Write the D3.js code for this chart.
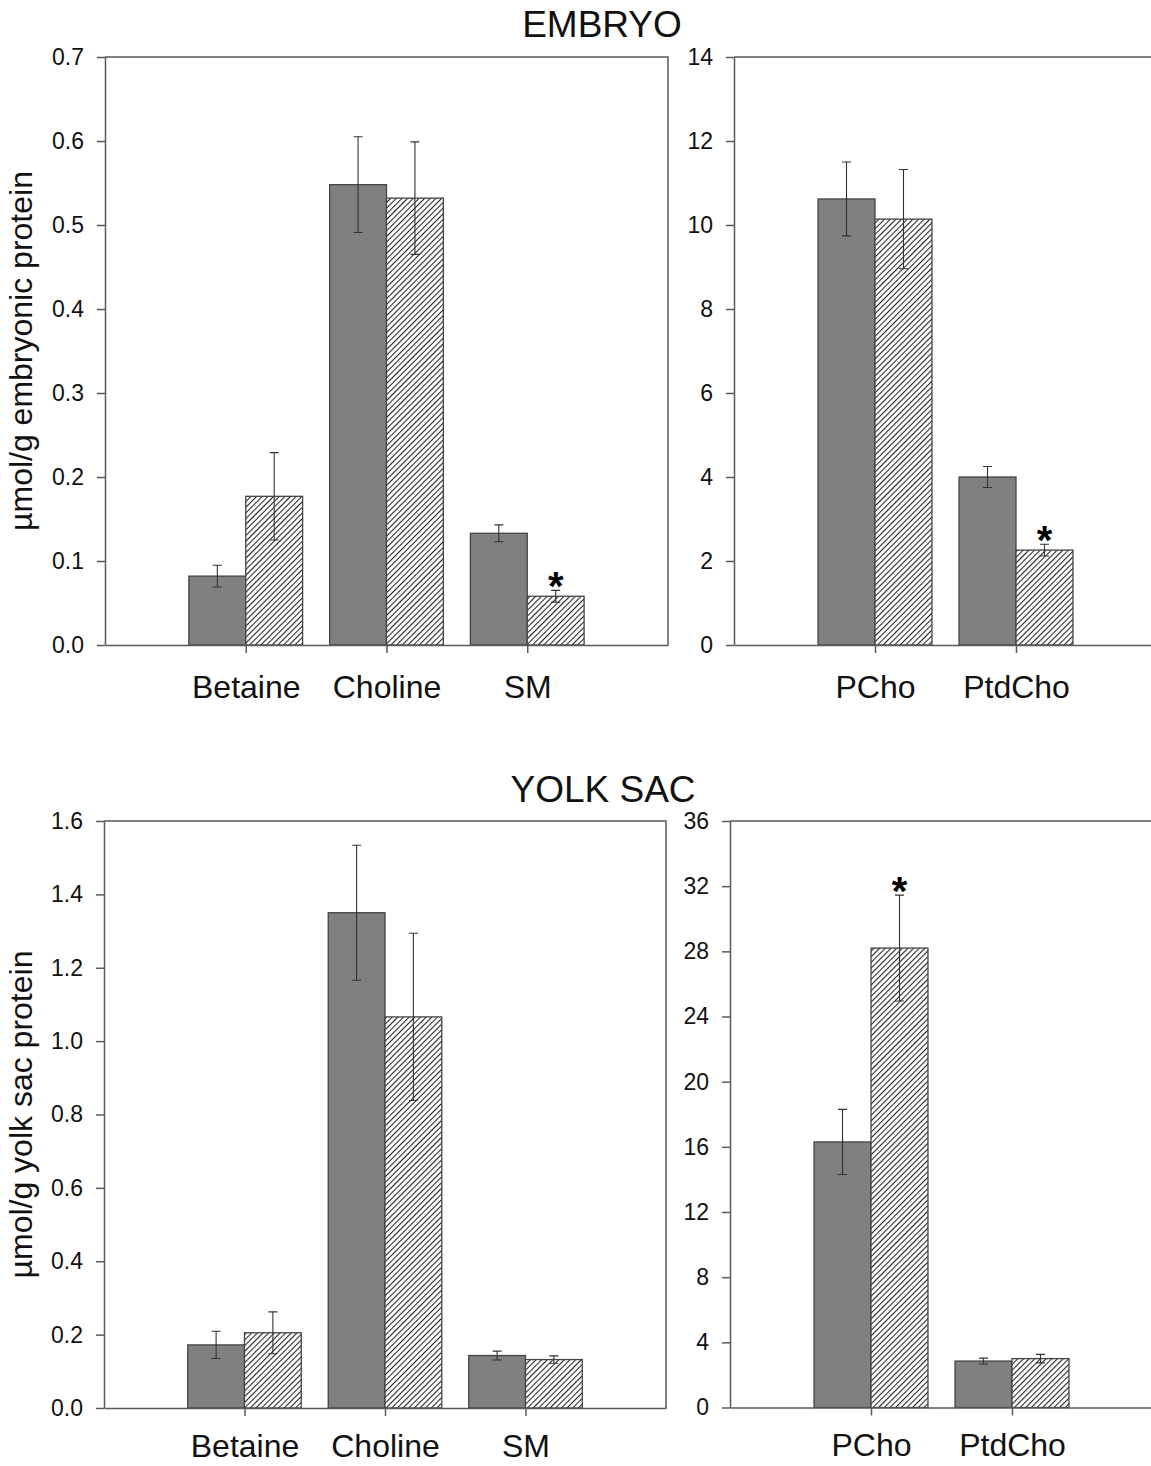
<!DOCTYPE html>
<html>
<head>
<meta charset="utf-8">
<script src="https://cdn.jsdelivr.net/npm/d3@7"></script>
<style>
  body { margin: 0; background: #fff; }
  svg text { font-family: "Liberation Sans", Arial, sans-serif; }
</style>
</head>
<body>
<div id="chart"></div>
<script>
const leftCats = ["Betaine", "Choline", "SM"];
const rightCats = ["PCho", "PtdCho"];

// embryo
const embryoLeftSolid = [0.082, 0.548, 0.133];
const embryoLeftSolidErr = [0.013, 0.057, 0.010];
const embryoLeftHatch = [0.177, 0.532, 0.058];
const embryoLeftHatchErr = [0.052, 0.067, 0.007];
const embryoLeftStars = ["SM"];
const embryoLeftTicks = [0, 0.1, 0.2, 0.3, 0.4, 0.5, 0.6, 0.7];

const embryoRightSolid = [10.62, 4.0];
const embryoRightSolidErr = [0.88, 0.25];
const embryoRightHatch = [10.14, 2.26];
const embryoRightHatchErr = [1.18, 0.14];
const embryoRightStars = ["PtdCho"];
const embryoRightTicks = [0, 2, 4, 6, 8, 10, 12, 14];

// yolk sac
const yolkLeftSolid = [0.172, 1.35, 0.143];
const yolkLeftSolidErr = [0.037, 0.184, 0.012];
const yolkLeftHatch = [0.205, 1.066, 0.132];
const yolkLeftHatchErr = [0.057, 0.228, 0.010];
const yolkLeftStars = [];
const yolkLeftTicks = [0, 0.2, 0.4, 0.6, 0.8, 1.0, 1.2, 1.4, 1.6];

const yolkRightSolid = [16.3, 2.85];
const yolkRightSolidErr = [2.0, 0.18];
const yolkRightHatch = [28.2, 3.0];
const yolkRightHatchErr = [3.25, 0.26];
const yolkRightStars = ["PCho"];
const yolkRightTicks = [0, 4, 8, 12, 16, 20, 24, 28, 32, 36];

const width = 1151;
const height = 1466;

const svg = d3.select("#chart")
  .append("svg")
  .attr("width", width)
  .attr("height", height);

// diagonal hatch
svg.append("defs")
  .append("pattern")
  .attr("id", "hatch")
  .attr("patternUnits", "userSpaceOnUse")
  .attr("width", 4)
  .attr("height", 4)
  .attr("patternTransform", "rotate(45)")
  .call(p => p.append("rect").attr("width", 4).attr("height", 4).attr("fill", "#fff"))
  .append("line")
  .attr("x1", 0.5).attr("y1", 0)
  .attr("x2", 0.5).attr("y2", 4)
  .attr("stroke", "#222")
  .attr("stroke-width", 1.1);

function drawPanel(opt) {
  const { cats, solid, solidErr, hatch, hatchErr, stars, ticks, fmt } = opt;
  const g = svg.append("g");

  const x = d3.scaleLinear().domain([0, opt.xMax]).range([opt.left, opt.right]);
  const y = d3.scaleLinear().domain([0, ticks[ticks.length - 1]]).range([opt.bottom, opt.top]);
  const step = x(1) - x(0);
  const bw = step * 0.404;

  // frame (top and right sides)
  g.append("path")
    .attr("d", `M${opt.left},${opt.top}H${opt.right}V${opt.bottom}`)
    .attr("fill", "none")
    .attr("stroke", "#5a5a5a")
    .attr("stroke-width", 1.5);

  const rows = cats.map((c, i) => ({
    cat: c, pos: i + 1,
    solid: solid[i], solidErr: solidErr[i],
    hatch: hatch[i], hatchErr: hatchErr[i],
    star: stars.includes(c)
  }));

  g.selectAll("rect.solid")
    .data(rows)
    .join("rect")
    .attr("class", "solid")
    .attr("x", d => x(d.pos) - bw)
    .attr("y", d => y(d.solid))
    .attr("width", bw)
    .attr("height", d => y(0) - y(d.solid))
    .style("fill", "#808080")
    .style("stroke", "#444")
    .style("stroke-width", 1.3);

  g.selectAll("rect.hatch")
    .data(rows)
    .join("rect")
    .attr("class", "hatch")
    .attr("x", d => x(d.pos))
    .attr("y", d => y(d.hatch))
    .attr("width", bw)
    .attr("height", d => y(0) - y(d.hatch))
    .style("fill", "url(#hatch)")
    .style("stroke", "#444")
    .style("stroke-width", 1.3);

  // error bars
  const errs = [];
  rows.forEach(d => {
    errs.push({ cx: x(d.pos) - bw / 2, v: d.solid, e: d.solidErr });
    errs.push({ cx: x(d.pos) + bw / 2, v: d.hatch, e: d.hatchErr });
  });
  const cap = 4.5;
  g.selectAll("path.err")
    .data(errs)
    .join("path")
    .attr("class", "err")
    .attr("d", d => {
      const y1 = y(d.v + d.e), y2 = y(d.v - d.e);
      return `M${d.cx},${y1}V${y2}M${d.cx - cap},${y1}H${d.cx + cap}M${d.cx - cap},${y2}H${d.cx + cap}`;
    })
    .style("fill", "none")
    .style("stroke", "#333")
    .style("stroke-width", 1.1);

  // significance stars
  g.selectAll("text.star")
    .data(rows.filter(d => d.star))
    .join("text")
    .attr("class", "star")
    .attr("x", d => x(d.pos) + bw / 2)
    .attr("y", d => y(d.hatch + d.hatchErr) + 10)
    .attr("text-anchor", "middle")
    .style("font-size", "40px")
    .style("font-weight", "bold")
    .style("fill", "#000")
    .text("*");

  // y axis
  g.append("g")
    .attr("transform", `translate(${opt.left},0)`)
    .call(d3.axisLeft(y).tickValues(ticks).tickFormat(fmt).tickSize(8).tickSizeOuter(0).tickPadding(13))
    .call(a => a.select(".domain").attr("stroke", "#5a5a5a").attr("stroke-width", 1.5))
    .call(a => a.selectAll(".tick line").attr("stroke", "#5a5a5a").attr("stroke-width", 1.5))
    .call(a => a.selectAll("text").style("font-size", "23px").style("fill", "#111")
      .style("font-family", "'Liberation Sans', Arial, sans-serif"));

  // x axis
  g.append("g")
    .attr("transform", `translate(0,${opt.bottom})`)
    .call(d3.axisBottom(x).tickValues(rows.map(d => d.pos)).tickFormat((d, i) => cats[i])
      .tickSize(8).tickSizeOuter(0).tickPadding(opt.labelPad))
    .call(a => a.select(".domain").attr("stroke", "#5a5a5a").attr("stroke-width", 1.5))
    .call(a => a.selectAll(".tick line").attr("stroke", "#5a5a5a").attr("stroke-width", 1.5))
    .call(a => a.selectAll("text").style("font-size", "32px").style("fill", "#111")
      .style("font-family", "'Liberation Sans', Arial, sans-serif"));

  if (opt.yTitle) {
    g.append("text")
      .attr("transform", `translate(32,${(opt.top + opt.bottom) / 2}) rotate(-90)`)
      .attr("text-anchor", "middle")
      .style("font-size", "32px")
      .style("fill", "#111")
      .text(opt.yTitle);
  }
}

const f1 = d3.format(".1f");
const f0 = d3.format("d");

drawPanel({
  cats: leftCats, solid: embryoLeftSolid, solidErr: embryoLeftSolidErr,
  hatch: embryoLeftHatch, hatchErr: embryoLeftHatchErr, stars: embryoLeftStars,
  ticks: embryoLeftTicks, fmt: f1, xMax: 4, labelPad: 22,
  left: 105, right: 668, top: 57, bottom: 645,
  yTitle: "µmol/g embryonic protein"
});

drawPanel({
  cats: rightCats, solid: embryoRightSolid, solidErr: embryoRightSolidErr,
  hatch: embryoRightHatch, hatchErr: embryoRightHatchErr, stars: embryoRightStars,
  ticks: embryoRightTicks, fmt: f0, xMax: 3, labelPad: 22,
  left: 734, right: 1157, top: 57, bottom: 645
});

drawPanel({
  cats: leftCats, solid: yolkLeftSolid, solidErr: yolkLeftSolidErr,
  hatch: yolkLeftHatch, hatchErr: yolkLeftHatchErr, stars: yolkLeftStars,
  ticks: yolkLeftTicks, fmt: f1, xMax: 4, labelPad: 18,
  left: 104, right: 666, top: 821, bottom: 1408,
  yTitle: "µmol/g yolk sac protein"
});

drawPanel({
  cats: rightCats, solid: yolkRightSolid, solidErr: yolkRightSolidErr,
  hatch: yolkRightHatch, hatchErr: yolkRightHatchErr, stars: yolkRightStars,
  ticks: yolkRightTicks, fmt: f0, xMax: 3, labelPad: 18,
  left: 730, right: 1153, top: 821, bottom: 1407.5
});

// section titles
svg.append("text")
  .attr("x", 602).attr("y", 37)
  .attr("text-anchor", "middle")
  .style("font-size", "37px")
  .style("fill", "#111")
  .text("EMBRYO");

svg.append("text")
  .attr("x", 603).attr("y", 802)
  .attr("text-anchor", "middle")
  .style("font-size", "37px")
  .style("fill", "#111")
  .text("YOLK SAC");
</script>
</body>
</html>
